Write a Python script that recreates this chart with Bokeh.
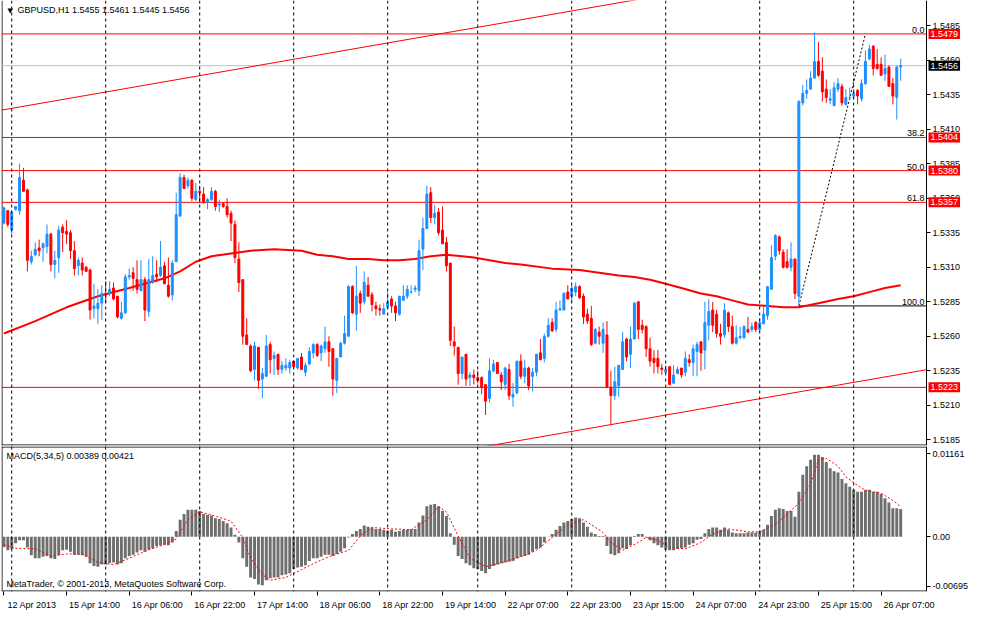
from bokeh.plotting import figure
from bokeh.models import (Range1d, FixedTicker, Label, Span, ColumnDataSource, LinearAxis,
                          CustomJSTickFormatter, PrintfTickFormatter)
from bokeh.layouts import column
from bokeh.embed import file_html
from bokeh.resources import INLINE

# ---------------- data ----------------
symbol_header = "GBPUSD,H1 1.5455 1.5461 1.5445 1.5456"
macd_header = "MACD(5,34,5) 0.00389 0.00421"
copyright_text = "MetaTrader, \u00a9 2001-2013, MetaQuotes Software Corp."

opens = [1.5342,1.5351,1.5337,1.5352,1.5351,1.5373,1.5366,1.5314,1.5319,1.5324,
         1.5324,1.5325,1.5334,1.5312,1.5317,1.5339,1.5336,1.5335,1.5322,1.5311,
         1.5313,1.5310,1.5308,1.5280,1.5280,1.5284,1.5291,1.5291,1.5295,1.5289,
         1.5273,1.5277,1.5303,1.5306,1.5301,1.5293,1.5301,1.5278,1.5299,1.5305,
         1.5304,1.5311,1.5297,1.5290,1.5314,1.5347,1.5375,1.5369,1.5373,1.5359,
         1.5365,1.5363,1.5357,1.5359,1.5365,1.5355,1.5356,1.5354,1.5349,1.5341,
         1.5316,1.5301,1.5261,1.5253,1.5236,1.5252,1.5229,1.5231,1.5254,1.5244,
         1.5247,1.5236,1.5237,1.5237,1.5242,1.5237,1.5245,1.5234,1.5240,1.5248,
         1.5254,1.5248,1.5251,1.5256,1.5251,1.5228,1.5245,1.5255,1.5260,1.5296,
         1.5276,1.5291,1.5285,1.5297,1.5290,1.5282,1.5280,1.5276,1.5281,1.5287,
         1.5282,1.5276,1.5286,1.5289,1.5292,1.5294,1.5293,1.5323,1.5338,1.5364,
         1.5346,1.5350,1.5337,1.5328,1.5313,1.5256,1.5252,1.5233,1.5247,1.5230,
         1.5232,1.5230,1.5230,1.5225,1.5215,1.5235,1.5241,1.5232,1.5225,1.5236,
         1.5216,1.5219,1.5242,1.5231,1.5237,1.5231,1.5234,1.5248,1.5244,1.5260,
         1.5270,1.5265,1.5279,1.5279,1.5292,1.5289,1.5292,1.5296,1.5289,1.5276,
         1.5273,1.5255,1.5263,1.5255,1.5261,1.5223,1.5217,1.5224,1.5236,1.5258,
         1.5247,1.5258,1.5285,1.5268,1.5267,1.5251,1.5244,1.5244,1.5237,1.5234,
         1.5238,1.5226,1.5233,1.5237,1.5234,1.5243,1.5241,1.5249,1.5256,1.5250,
         1.5268,1.5279,1.5276,1.5262,1.5261,1.5277,1.5267,1.5255,1.5259,1.5259,
         1.5265,1.5265,1.5270,1.5265,1.5269,1.5275,1.5294,1.5318,1.5332,1.5321,
         1.5314,1.5310,1.5316,1.5289,1.5429,1.5436,1.5439,1.5447,1.5459,1.5452,
         1.5439,1.5431,1.5427,1.5439,1.5441,1.5428,1.5433,1.5434,1.5438,1.5432,
         1.5443,1.5461,1.5470,1.5457,1.5457,1.5450,1.5455,1.5443,1.5433,1.5455]
highs = [1.5354,1.5351,1.5351,1.5354,1.5385,1.5382,1.5367,1.5322,1.5328,1.5330,
         1.5328,1.5341,1.5335,1.5322,1.5340,1.5341,1.5344,1.5337,1.5329,1.5317,
         1.5317,1.5311,1.5309,1.5298,1.5294,1.5297,1.5300,1.5300,1.5299,1.5289,
         1.5285,1.5305,1.5309,1.5310,1.5315,1.5315,1.5303,1.5316,1.5318,1.5315,
         1.5329,1.5314,1.5317,1.5315,1.5364,1.5378,1.5377,1.5375,1.5374,1.5371,
         1.5369,1.5368,1.5360,1.5368,1.5366,1.5359,1.5357,1.5360,1.5351,1.5344,
         1.5328,1.5301,1.5273,1.5254,1.5256,1.5252,1.5237,1.5261,1.5256,1.5249,
         1.5247,1.5242,1.5244,1.5243,1.5242,1.5244,1.5248,1.5241,1.5252,1.5255,
         1.5255,1.5254,1.5267,1.5260,1.5251,1.5244,1.5256,1.5275,1.5297,1.5297,
         1.5311,1.5293,1.5307,1.5303,1.5292,1.5285,1.5283,1.5284,1.5292,1.5289,
         1.5285,1.5289,1.5297,1.5297,1.5297,1.5297,1.5330,1.5346,1.5369,1.5368,
         1.5355,1.5353,1.5354,1.5332,1.5313,1.5267,1.5252,1.5245,1.5247,1.5234,
         1.5236,1.5235,1.5231,1.5225,1.5244,1.5243,1.5241,1.5234,1.5238,1.5240,
         1.5226,1.5242,1.5247,1.5243,1.5238,1.5237,1.5247,1.5258,1.5262,1.5273,
         1.5273,1.5285,1.5286,1.5292,1.5297,1.5297,1.5299,1.5297,1.5291,1.5280,
         1.5282,1.5266,1.5267,1.5270,1.5271,1.5235,1.5238,1.5239,1.5263,1.5259,
         1.5267,1.5285,1.5285,1.5272,1.5268,1.5259,1.5250,1.5250,1.5240,1.5239,
         1.5238,1.5239,1.5238,1.5237,1.5249,1.5247,1.5254,1.5256,1.5256,1.5285,
         1.5287,1.5285,1.5279,1.5269,1.5284,1.5278,1.5275,1.5268,1.5267,1.5268,
         1.5274,1.5270,1.5271,1.5273,1.5282,1.5296,1.5326,1.5334,1.5333,1.5323,
         1.5323,1.5328,1.5316,1.5431,1.5442,1.5446,1.5452,1.5480,1.5473,1.5462,
         1.5446,1.5439,1.5444,1.5447,1.5443,1.5439,1.5440,1.5439,1.5439,1.5446,
         1.5467,1.5471,1.5471,1.5468,1.5462,1.5464,1.5456,1.5447,1.5456,1.5461]
lows = [1.5341,1.5339,1.5334,1.5351,1.5348,1.5365,1.5307,1.5312,1.5318,1.5318,
        1.5314,1.5320,1.5307,1.5302,1.5306,1.5321,1.5327,1.5316,1.5304,1.5304,
        1.5304,1.5307,1.5272,1.5273,1.5269,1.5272,1.5284,1.5289,1.5286,1.5273,
        1.5272,1.5276,1.5301,1.5293,1.5291,1.5293,1.5271,1.5274,1.5298,1.5299,
        1.5303,1.5298,1.5288,1.5286,1.5314,1.5347,1.5367,1.5367,1.5358,1.5358,
        1.5357,1.5356,1.5352,1.5358,1.5351,1.5350,1.5353,1.5346,1.5329,1.5313,
        1.5292,1.5254,1.5254,1.5234,1.5228,1.5222,1.5215,1.5231,1.5233,1.5232,
        1.5232,1.5233,1.5235,1.5233,1.5238,1.5236,1.5236,1.5231,1.5239,1.5244,
        1.5245,1.5242,1.5248,1.5238,1.5217,1.5219,1.5245,1.5254,1.5260,1.5276,
        1.5264,1.5277,1.5283,1.5289,1.5278,1.5275,1.5275,1.5276,1.5280,1.5277,
        1.5271,1.5275,1.5286,1.5287,1.5291,1.5292,1.5289,1.5308,1.5338,1.5342,
        1.5341,1.5333,1.5327,1.5307,1.5253,1.5246,1.5225,1.5229,1.5224,1.5224,
        1.5225,1.5226,1.5218,1.5203,1.5212,1.5234,1.5233,1.5221,1.5221,1.5214,
        1.5209,1.5218,1.5229,1.5226,1.5221,1.5220,1.5231,1.5243,1.5241,1.5259,
        1.5263,1.5263,1.5279,1.5279,1.5287,1.5285,1.5289,1.5287,1.5269,1.5269,
        1.5253,1.5254,1.5254,1.5248,1.5223,1.5196,1.5214,1.5216,1.5236,1.5242,
        1.5237,1.5258,1.5258,1.5262,1.5245,1.5238,1.5233,1.5233,1.5232,1.5233,
        1.5225,1.5226,1.5233,1.5230,1.5231,1.5238,1.5231,1.5231,1.5235,1.5236,
        1.5257,1.5263,1.5259,1.5254,1.5259,1.5263,1.5254,1.5254,1.5258,1.5258,
        1.5263,1.5263,1.5263,1.5263,1.5269,1.5272,1.5294,1.5315,1.5319,1.5309,
        1.5309,1.5307,1.5287,1.5282,1.5427,1.5432,1.5439,1.5447,1.5448,1.5430,
        1.5429,1.5428,1.5427,1.5437,1.5427,1.5427,1.5431,1.5432,1.5428,1.5430,
        1.5442,1.5460,1.5449,1.5453,1.5449,1.5445,1.5441,1.5428,1.5417,1.5445]
closes = [1.5353,1.5341,1.5350,1.5354,1.5375,1.5365,1.5315,1.5318,1.5323,1.5322,
          1.5327,1.5334,1.5312,1.5315,1.5337,1.5335,1.5334,1.5322,1.5309,1.5315,
          1.5308,1.5307,1.5279,1.5282,1.5284,1.5291,1.5290,1.5294,1.5287,1.5274,
          1.5277,1.5303,1.5304,1.5302,1.5294,1.5301,1.5279,1.5301,1.5304,1.5303,
          1.5310,1.5298,1.5289,1.5313,1.5348,1.5375,1.5367,1.5373,1.5360,1.5365,
          1.5364,1.5357,1.5359,1.5365,1.5354,1.5356,1.5354,1.5348,1.5342,1.5317,
          1.5299,1.5260,1.5254,1.5235,1.5253,1.5228,1.5233,1.5253,1.5243,1.5246,
          1.5236,1.5239,1.5239,1.5241,1.5238,1.5244,1.5236,1.5239,1.5249,1.5254,
          1.5246,1.5253,1.5256,1.5249,1.5229,1.5244,1.5255,1.5262,1.5296,1.5277,
          1.5289,1.5284,1.5299,1.5289,1.5283,1.5280,1.5279,1.5280,1.5285,1.5282,
          1.5277,1.5289,1.5289,1.5294,1.5292,1.5295,1.5322,1.5338,1.5363,1.5346,
          1.5349,1.5335,1.5327,1.5311,1.5257,1.5253,1.5233,1.5245,1.5229,1.5232,
          1.5230,1.5228,1.5223,1.5213,1.5235,1.5240,1.5233,1.5227,1.5237,1.5217,
          1.5218,1.5242,1.5231,1.5237,1.5224,1.5234,1.5247,1.5243,1.5260,1.5268,
          1.5264,1.5279,1.5280,1.5291,1.5287,1.5295,1.5296,1.5288,1.5274,1.5271,
          1.5254,1.5265,1.5260,1.5265,1.5223,1.5217,1.5227,1.5239,1.5256,1.5245,
          1.5258,1.5284,1.5265,1.5265,1.5251,1.5242,1.5241,1.5238,1.5236,1.5236,
          1.5225,1.5232,1.5236,1.5232,1.5244,1.5241,1.5251,1.5254,1.5248,1.5270,
          1.5278,1.5268,1.5262,1.5260,1.5279,1.5267,1.5255,1.5259,1.5260,1.5267,
          1.5263,1.5267,1.5265,1.5270,1.5276,1.5296,1.5317,1.5333,1.5322,1.5310,
          1.5310,1.5316,1.5291,1.5430,1.5436,1.5438,1.5447,1.5459,1.5449,1.5437,
          1.5433,1.5432,1.5440,1.5443,1.5429,1.5433,1.5433,1.5436,1.5434,1.5443,
          1.5459,1.5468,1.5454,1.5454,1.5449,1.5454,1.5441,1.5434,1.5455,1.5456]

# moving average (vertices)
ma_idx = [0, 8, 16, 24, 32, 41, 45, 49, 53, 58, 63, 69, 76, 80, 84, 88, 93, 97,
          101, 105, 109, 113, 117, 120, 128, 132, 140, 147, 152, 157, 161, 165,
          169, 173, 178, 182, 186, 190, 195, 199, 203, 208, 213, 217, 221, 225, 229]
ma_val = [1.5262, 1.5271, 1.5281, 1.5289, 1.5295, 1.5302, 1.5307, 1.5314, 1.5318,
          1.5320, 1.5322, 1.5323, 1.5322, 1.5319, 1.5318, 1.5316, 1.5316, 1.5315,
          1.5315, 1.5316, 1.5318, 1.5319, 1.5318, 1.5317, 1.5313, 1.5312, 1.5309,
          1.5308, 1.5306, 1.5304, 1.5303, 1.5301, 1.5298, 1.5295, 1.5291, 1.5289,
          1.5286, 1.5283, 1.5282, 1.5281, 1.5281, 1.5284, 1.5287, 1.5289, 1.5292,
          1.5295, 1.5297]

# MACD histogram (one value per bar) and signal line vertices
macd_hist = [-0.00146,-0.0019,-0.0017,-0.0009,-0.0005,-0.0005,-0.0015,-0.0026,-0.0030,-0.0030,
             -0.0028,-0.0027,-0.0030,-0.0031,-0.0026,-0.0019,-0.0018,-0.0021,-0.0025,-0.0025,
             -0.0026,-0.0028,-0.0037,-0.0041,-0.0042,-0.0039,-0.0039,-0.0037,-0.0036,-0.0039,
             -0.0037,-0.0030,-0.0027,-0.0025,-0.0022,-0.0019,-0.0021,-0.0018,-0.0016,-0.0013,
             -0.0012,-0.0011,-0.0012,-0.0008,0.0008,0.0024,0.0032,0.0038,0.0038,0.0038,
             0.0036,0.0032,0.0031,0.0030,0.0026,0.0025,0.0022,0.0019,0.0013,0.0003,
             -0.0008,-0.0030,-0.0042,-0.0057,-0.0059,-0.0067,-0.0068,-0.0061,-0.0058,-0.0057,
             -0.0057,-0.0054,-0.0053,-0.0051,-0.0045,-0.0043,-0.0042,-0.0040,-0.0034,-0.0030,
             -0.0030,-0.0028,-0.0025,-0.0025,-0.0027,-0.0024,-0.0021,-0.0016,-0.0001,0.0004,
             0.0008,0.0011,0.0016,0.0014,0.0013,0.0011,0.0011,0.0010,0.0008,0.0010,
             0.0007,0.0008,0.0010,0.0010,0.0011,0.0011,0.0020,0.0030,0.0043,0.0045,
             0.0046,0.0043,0.0036,0.0029,0.0005,-0.0011,-0.0027,-0.0031,-0.0037,-0.0040,
             -0.0044,-0.0045,-0.0048,-0.0051,-0.0045,-0.0041,-0.0039,-0.0037,-0.0036,-0.0035,
             -0.0034,-0.0030,-0.0028,-0.0027,-0.0025,-0.0021,-0.0017,-0.0015,-0.0008,0.00005,
             0.0004,0.0010,0.0015,0.0020,0.0022,0.0025,0.0027,0.0026,0.0020,0.0014,
             0.0006,0.0004,0.0001,0.0001,-0.0013,-0.0024,-0.0026,-0.0023,-0.0016,-0.0017,
             -0.0012,0.0001,0.0004,0.0004,-0.0001,-0.0005,-0.0009,-0.0012,-0.0015,-0.0018,
             -0.0019,-0.0019,-0.0017,-0.0016,-0.0015,-0.0011,-0.0009,-0.0004,-0.0003,0.0005,
             0.0011,0.0013,0.0013,0.0010,0.0013,0.0010,0.0006,0.0005,0.0005,0.0005,
             0.0006,0.0006,0.0006,0.0007,0.0010,0.0017,0.0029,0.0038,0.0040,0.0039,
             0.0036,0.0036,0.0028,0.0063,0.0087,0.0099,0.0108,0.0115,0.0115,0.0112,
             0.0105,0.0096,0.0092,0.0090,0.0081,0.0075,0.0070,0.0066,0.0063,0.0063,
             0.0066,0.0066,0.0063,0.0063,0.0060,0.0054,0.0048,0.0040,0.0040,0.00389]
sig_idx = [0, 3, 8, 12, 16, 20, 24, 28, 32, 37, 41, 44, 47, 50, 54, 58, 61, 63, 66,
           68, 72, 76, 80, 84, 88, 91, 94, 99, 104, 108, 111, 113, 116, 119, 123,
           128, 132, 136, 140, 144, 148, 150, 153, 155, 158, 162, 164, 167, 170,
           174, 178, 181, 185, 190, 193, 197, 201, 203, 206, 208, 210, 213, 215,
           218, 220, 224, 227, 229]
sig_val = [-0.0011, -0.0016, -0.0017, -0.0027, -0.0024, -0.0024, -0.0036, -0.0039,
           -0.0030, -0.0018, -0.0011, -0.0003, 0.0024, 0.0035, 0.0029, 0.0022,
           -0.0001, -0.0030, -0.0053, -0.0061, -0.0057, -0.0046, -0.0035, -0.0026,
           -0.0019, 0.0001, 0.0013, 0.0011, 0.0010, 0.0024, 0.0042, 0.0035, 0.0001,
           -0.0030, -0.0042, -0.0035, -0.0028, -0.0019, -0.0001, 0.0017, 0.0024,
           0.0017, 0.0006, -0.0008, -0.0019, -0.0008, -0.0001, -0.0005, -0.0015,
           -0.0017, -0.0008, 0.0004, 0.0011, 0.0007, 0.0007, 0.0017, 0.0037, 0.0047,
           0.0074, 0.0108, 0.0110, 0.0099, 0.0084, 0.0072, 0.0065, 0.0061, 0.0051,
           0.00421]

# horizontal lines and their labels
level_prices = [1.5479, 1.5404, 1.5380, 1.5357, 1.5223]
current_price = 1.5456
fib_low_idx, fib_low = 203, 1.5282
fib_high_idx, fib_high = 220, 1.5479
fib_names = ["0.0", "38.2", "50.0", "61.8", "100.0"]
fib_prices = [1.5479, 1.5404, 1.5380, 1.5357, 1.5282]

# trend channel anchors (bar index, price)
upper_trend = [(0, 1.54241), (150, 1.54981)]
lower_trend = [(130, 1.51837), (220, 1.52281)]

# axes
price_ticks = [1.5185, 1.5210, 1.5235, 1.5260, 1.5285, 1.5310, 1.5335, 1.5360,
               1.5385, 1.5410, 1.5435, 1.5460, 1.5485]
macd_ticks = [-0.00695, 0.0, 0.01161]
day_starts = [2, 26, 50, 74, 98, 121, 145, 169, 193, 217]
time_tick_idx = [0, 16, 32, 48, 64, 80, 96, 112, 128, 144, 160, 176, 192, 208, 224]
time_tick_labels = ["12 Apr 2013", "15 Apr 14:00", "16 Apr 06:00", "16 Apr 22:00",
                    "17 Apr 14:00", "18 Apr 06:00", "18 Apr 22:00", "19 Apr 14:00",
                    "22 Apr 07:00", "22 Apr 23:00", "23 Apr 15:00", "24 Apr 07:00",
                    "24 Apr 23:00", "25 Apr 15:00", "26 Apr 07:00"]

# ---------------- style / geometry ----------------
FONT = "Liberation Sans"
FS = "9px"
BULL = "#1E90FF"
BEAR = "#FF0000"
FW = 969            # frame spans chart + price-scale area
MAIN_H = 445
MACD_H = 145
X0, X1 = -0.613, 246.83          # visible bar-index range
AXIS_X = 235.6                   # where the price scale sits
LABEL_SHIFT = 7.2                # time labels start at their tick
PY0, PY1 = 1.51809, 1.55032
MY0, MY1 = -0.00767, 0.01266
px_x = (X1 - X0) / FW
px_py = (PY1 - PY0) / MAIN_H
px_my = (MY1 - MY0) / MACD_H
BORDER_X = X0 + 0.5 * px_x

idx = list(range(len(opens)))
colors = [BULL if c >= o else BEAR for o, c in zip(opens, closes)]
src = ColumnDataSource(dict(
    x=idx, o=opens, h=highs, l=lows, c=closes,
    top=[max(o, c) for o, c in zip(opens, closes)],
    bot=[min(o, c) for o, c in zip(opens, closes)],
    color=colors))

x_range = Range1d(X0, X1)


def base_fig(h, y0, y1, top_b, bot_b):
    f = figure(frame_width=FW, frame_height=h, x_range=x_range,
               y_range=Range1d(y0, y1), output_backend="svg",
               toolbar_location=None, x_axis_location=None, y_axis_location=None,
               min_border_left=1, min_border_right=0, min_border_top=top_b,
               min_border_bottom=bot_b)
    f.xgrid.visible = False
    f.ygrid.visible = False
    f.outline_line_color = None
    f.background_fill_color = "white"
    f.border_fill_color = "white"
    for d in day_starts:
        f.add_layout(Span(location=d, dimension="height", line_color="black",
                          line_dash="3 3", line_width=1))
    # left border
    f.segment(x0=[BORDER_X], x1=[BORDER_X], y0=[y0], y1=[y1], line_color="black", line_width=1)
    return f


def price_scale(ticks, fmt):
    ax = LinearAxis(ticker=FixedTicker(ticks=ticks), formatter=fmt, fixed_location=AXIS_X)
    ax.axis_line_color = "black"
    ax.major_tick_line_color = "black"
    ax.major_tick_in = 0
    ax.major_tick_out = 4
    ax.minor_tick_line_color = None
    ax.major_label_standoff = 2
    ax.major_label_text_font = FONT
    ax.major_label_text_font_size = FS
    ax.major_label_text_color = "black"
    return ax


# ---------------- main price panel ----------------
p = base_fig(MAIN_H, PY0, PY1, 0, 1)
p.add_layout(price_scale(price_ticks, PrintfTickFormatter(format="%.4f")), "right")

# bottom border of the price panel
p.segment(x0=[X0], x1=[AXIS_X], y0=[PY0 + 0.5 * px_py], y1=[PY0 + 0.5 * px_py],
          line_color="black", line_width=1)

# horizontal levels
p.segment(x0=[X0] * len(level_prices), x1=[AXIS_X] * len(level_prices),
          y0=level_prices, y1=level_prices, line_color="#FF0000", line_width=1)
p.segment(x0=[X0], x1=[AXIS_X], y0=[current_price], y1=[current_price],
          line_color="#C0C0C0", line_width=1)

# trend channel lines (extended through their two anchors)
for (a, b) in (upper_trend, lower_trend):
    g = (b[1] - a[1]) / (b[0] - a[0])
    p.line([X0, AXIS_X], [a[1] + g * (X0 - a[0]), a[1] + g * (AXIS_X - a[0])],
           line_color="#FF0000", line_width=1)

# fibonacci
p.segment(x0=[fib_low_idx], x1=[AXIS_X], y0=[fib_low], y1=[fib_low],
          line_color="black", line_width=1)
p.line([fib_low_idx, fib_high_idx], [fib_low, fib_high], line_color="black",
       line_dash="2 2", line_width=1)

# moving average
p.line(ma_idx, ma_val, line_color="#FF0000", line_width=2)

# candles
p.segment(x0="x", x1="x", y0="l", y1="h", color="color", line_width=1, source=src)
p.vbar(x="x", top="top", bottom="bot", width=0.5, fill_color="color",
       line_color="color", line_width=1, source=src)

# fib level texts
for name, pr in zip(fib_names, fib_prices):
    p.add_layout(Label(x=AXIS_X, y=pr, text=name, x_offset=-2,
                       text_align="right", text_baseline="bottom", y_offset=1,
                       text_font=FONT, text_font_size=FS, text_color="black"))

# price boxes on the scale
for lv in level_prices:
    p.add_layout(Label(x=AXIS_X, y=lv, text="%.4f" % lv, x_offset=2,
                       text_baseline="middle", text_font=FONT, text_font_size=FS,
                       text_color="white", background_fill_color="#FF0000",
                       padding=2))
p.add_layout(Label(x=AXIS_X, y=current_price, text="%.4f" % current_price, x_offset=2,
                   text_baseline="middle", text_font=FONT, text_font_size=FS,
                   text_color="white", background_fill_color="black", padding=2))

# header
p.add_layout(Label(x=6, y=MAIN_H - 6, x_units="screen", y_units="screen", text="\u25bc",
                   text_baseline="top", text_font="DejaVu Sans", text_font_size="7px",
                   text_color="black"))
p.add_layout(Label(x=16, y=MAIN_H - 4, x_units="screen", y_units="screen",
                   text=symbol_header, text_baseline="top", text_font=FONT,
                   text_font_size=FS, text_color="black"))

# ---------------- MACD panel ----------------
m = base_fig(MACD_H, MY0, MY1, 0, 19)
m.add_layout(price_scale(macd_ticks, CustomJSTickFormatter(
    code="if (Math.abs(tick) < 1e-12) { return '0.00'; } return tick.toFixed(5);")), "right")

# top border and time-axis line
m.segment(x0=[X0, X0], x1=[AXIS_X, AXIS_X],
          y0=[MY1 - 0.5 * px_my, MY0 + 0.5 * px_my], y1=[MY1 - 0.5 * px_my, MY0 + 0.5 * px_my],
          line_color="black", line_width=1)

m.vbar(x=idx, top=macd_hist, bottom=0, width=0.75, fill_color="#6E6E6E", line_color=None)
m.line(sig_idx, sig_val, line_color="#FF0000", line_dash="2 2", line_width=1)

# time axis: tick marks (minor) at the bars, labels starting at each tick
time_ax = LinearAxis(
    ticker=FixedTicker(ticks=[t + LABEL_SHIFT for t in time_tick_idx],
                       minor_ticks=time_tick_idx),
    formatter=CustomJSTickFormatter(args=dict(labels=time_tick_labels),
                                    code="return labels[index];"))
time_ax.axis_line_color = None
time_ax.major_tick_line_color = None
time_ax.major_tick_in = 0
time_ax.major_tick_out = 0
time_ax.minor_tick_line_color = "black"
time_ax.minor_tick_in = 0
time_ax.minor_tick_out = 4
time_ax.major_label_standoff = 4
time_ax.major_label_text_font = FONT
time_ax.major_label_text_font_size = FS
time_ax.major_label_text_color = "black"
m.add_layout(time_ax, "below")

m.add_layout(Label(x=5, y=MACD_H - 4, x_units="screen", y_units="screen",
                   text=macd_header, text_baseline="top", text_font=FONT,
                   text_font_size=FS, text_color="black"))
m.add_layout(Label(x=5, y=3, x_units="screen", y_units="screen",
                   text=copyright_text, text_baseline="bottom", text_font=FONT,
                   text_font_size=FS, text_color="black"))

layout = column(p, m, spacing=0)
open("out.html", "w").write(file_html(layout, INLINE))
